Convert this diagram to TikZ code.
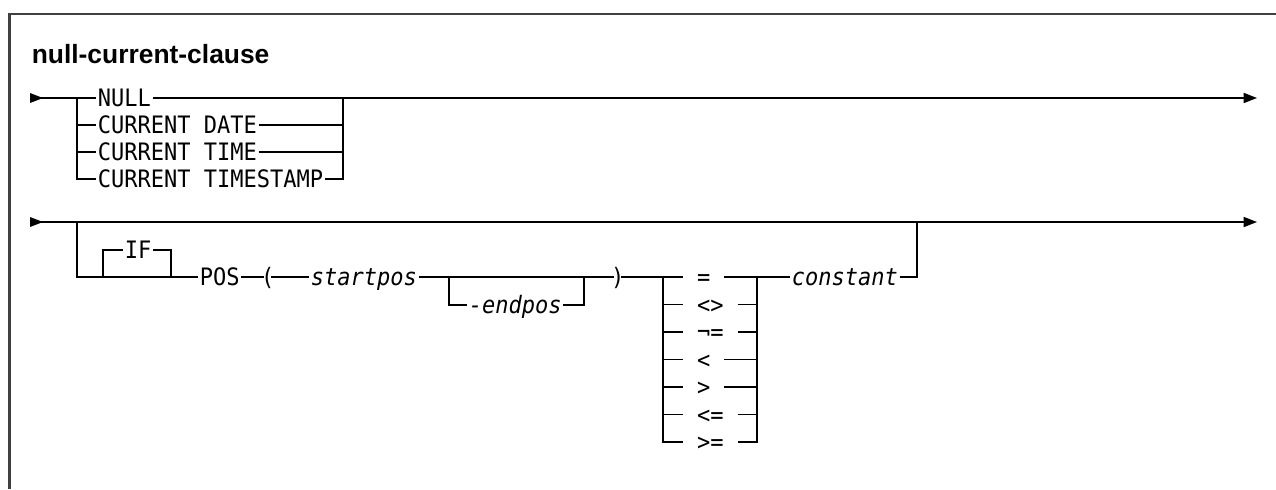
\documentclass[tikz,border=0pt]{standalone}
\usepackage{fontspec}
\usetikzlibrary{arrows.meta,calc}
\newfontfamily\synfont{DejaVu Sans Mono}[FakeStretch=0.917, ItalicFont={DejaVu Sans Mono Oblique}]
\newfontfamily\titlefont{Liberation Sans}
\begin{document}
\begin{tikzpicture}[x=0.75pt,y=-0.75pt,
  line width=1.15pt,
  kw/.style={font=\synfont\fontsize{18pt}{20pt}\selectfont, inner xsep=0.75pt, inner ysep=0pt, text height=13.1pt, text depth=0pt, anchor=west},
  var/.style={kw, font=\synfont\itshape\fontsize{18pt}{20pt}\selectfont},
  op/.style={kw, inner xsep=9.94pt},
  paren/.style={kw, inner xsep=-2.8pt},
  endarrow/.style={-{Triangle[length=10pt,width=7.5pt]}},
  frame/.style={draw=black!75, line width=1.6pt},
  ttl/.style={font=\titlefont\bfseries\fontsize{19.8pt}{22pt}\selectfont, anchor=base west, inner sep=0pt}
]
\useasboundingbox (0,0) rectangle (1276,489);
\draw[frame] (1276,14) -- (9.5,14) -- (9.5,489);
\node[ttl] (title) at (31,63) {null-current-clause};

% ---------- row 1 ----------
\coordinate (s1) at (30,98);
\coordinate (a1) at (77,98);
\coordinate (b1) at (343,98);
\coordinate (e1) at (1257,98);
\fill (s1) ++(0,-5) -- ++(13,5) -- ++(-13,5) -- cycle;
\node[kw] (nul) at (96,98) {NULL};
\node[kw] (cd) at (96,125) {CURRENT DATE};
\node[kw] (ct) at (96,152) {CURRENT TIME};
\node[kw] (cts) at (96,179) {CURRENT TIMESTAMP};
\draw (s1) -- (nul.west);
\draw[endarrow] (nul.east) -- (e1);
\draw (a1) |- (cts.west);
\draw (a1 |- cd.west) -- (cd.west);
\draw (a1 |- ct.west) -- (ct.west);
\draw (b1) |- (cts.east);
\draw (cd.east) -- (cd.east -| b1);
\draw (ct.east) -- (ct.east -| b1);

% ---------- row 2 ----------
\coordinate (s2) at (30,222);
\coordinate (a2) at (77,222);
\coordinate (e2) at (1257,222);
\coordinate (h1) at (917,222);
\fill (s2) ++(0,-5) -- ++(13,5) -- ++(-13,5) -- cycle;
\draw[endarrow] (s2) -- (e2);

\coordinate (c1) at (103,277);
\coordinate (c2) at (171,277);
\coordinate (d1) at (449,277);
\coordinate (d2) at (584,277);
\coordinate (f1) at (663,277);
\coordinate (g1) at (757,277);

\node[kw] (if) at (123,250) {IF};
\node[kw] (pos) at (198,277) {POS};
\node[paren] (lp) at (264,277) {(};
\node[var] (sp) at (309,277) {startpos};
\node[var] (ep) at (467,305) {-endpos};
\node[paren] (rp) at (614,277) {)};
\node[op] (o1) at (683,277) {=};
\node[op] (o2) at (683,304.5) {<>};
\node[op] (o3) at (683,332) {¬=};
\node[op] (o4) at (683,359.5) {<};
\node[op] (o5) at (683,387) {>};
\node[op] (o6) at (683,414.5) {<=};
\node[op] (o7) at (683,442) {>=};
\node[var] (cst) at (790,277) {constant};

\draw (a2) |- (pos.west);
\draw (c1) |- (if.west);
\draw (if.east) -| (c2);
\draw (pos.east) -- (lp.west);
\draw (lp.east) -- (sp.west);
\draw (sp.east) -- (rp.west);
\draw (d1) |- (ep.west);
\draw (ep.east) -| (d2);
\draw (rp.east) -- (o1.west);
\draw (f1) |- (o7.west);
\foreach \o in {o2,o3,o4,o5,o6} {
  \draw (f1 |- \o.west) -- (\o.west);
  \draw (\o.east) -- (\o.east -| g1);
}
\draw (o1.east) -- (cst.west);
\draw (g1) |- (o7.east);
\draw (cst.east) -| (h1);
\end{tikzpicture}
\end{document}
